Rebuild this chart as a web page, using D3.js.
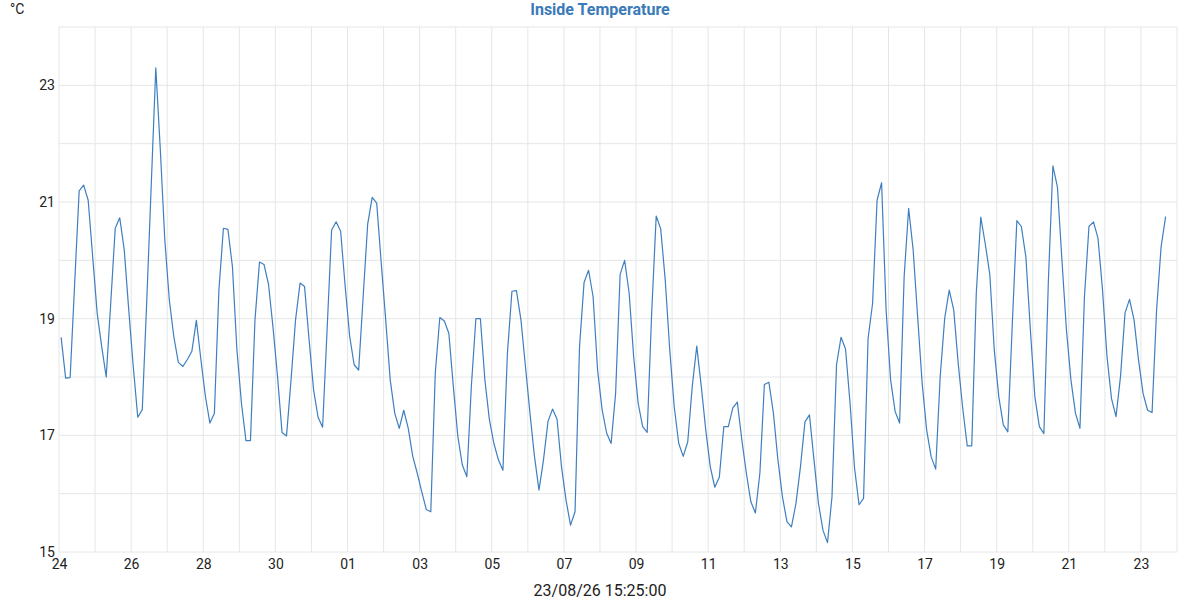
<!DOCTYPE html>
<html>
<head>
<meta charset="utf-8">
<script src="https://cdn.jsdelivr.net/npm/d3@7"></script>
<style>
  body { margin: 0; background: #fff; }
  svg text { font-family: Roboto, "Noto Sans", sans-serif; }
</style>
</head>
<body>
<div class="chart"></div>
<script>
// Data: inside temperature (°C), one reading every 3 hours from 24 Jul 01:25
const firstReading = new Date(2026, 6, 24, 1, 25);
const stepHours = 3;
const temps = [
  18.68, 17.98, 17.99, 19.6, 21.19, 21.29, 21.03, 20.06, 19.09, 18.52,
  18.0, 19.26, 20.55, 20.73, 20.18, 19.15, 18.18, 17.31, 17.44, 19.31,
  21.31, 23.30, 21.9, 20.35, 19.32, 18.69, 18.25, 18.18, 18.3, 18.44,
  18.97, 18.3, 17.67, 17.21, 17.38, 19.49, 20.55, 20.53, 19.89, 18.46,
  17.55, 16.91, 16.91, 18.98, 19.97, 19.93, 19.59, 18.85, 18.01, 17.05,
  16.99, 17.95, 18.98, 19.61, 19.55, 18.64, 17.78, 17.31, 17.14, 18.81,
  20.52, 20.66, 20.50, 19.56, 18.70, 18.21, 18.12, 19.38, 20.62, 21.08,
  20.98, 19.96, 18.98, 17.95, 17.38, 17.12, 17.43, 17.12, 16.64, 16.35,
  16.03, 15.73, 15.69, 18.07, 19.02, 18.96, 18.75, 17.84, 16.98, 16.49,
  16.29, 17.84, 19.0, 19.0, 17.95, 17.27, 16.86, 16.58, 16.40, 18.41,
  19.47, 19.48, 18.98, 18.18, 17.38, 16.64, 16.06, 16.58, 17.24, 17.45,
  17.28, 16.46, 15.89, 15.46, 15.69, 18.53, 19.62, 19.83, 19.38, 18.12,
  17.44, 17.04, 16.86, 17.72, 19.76, 20.0, 19.44, 18.35, 17.55, 17.15,
  17.05, 19.10, 20.76, 20.54, 19.67, 18.47, 17.49, 16.86, 16.64, 16.89,
  17.84, 18.53, 17.84, 17.09, 16.46, 16.11, 16.28, 17.15, 17.15, 17.47,
  17.57, 16.92, 16.35, 15.86, 15.67, 16.35, 17.87, 17.91, 17.38, 16.58,
  15.95, 15.52, 15.43, 15.83, 16.46, 17.23, 17.35, 16.58, 15.83, 15.37,
  15.16, 15.95, 18.21, 18.68, 18.48, 17.55, 16.44, 15.81, 15.92, 18.66,
  19.26, 21.03, 21.33, 19.15, 17.95, 17.41, 17.21, 19.72, 20.89, 20.18,
  19.03, 17.89, 17.09, 16.63, 16.42, 18.01, 19.01, 19.49, 19.15, 18.23,
  17.46, 16.82, 16.82, 19.43, 20.74, 20.28, 19.76, 18.46, 17.66, 17.18,
  17.06, 18.92, 20.68, 20.58, 20.06, 18.81, 17.66, 17.15, 17.03, 19.66,
  21.62, 21.26, 20.01, 18.81, 17.95, 17.38, 17.12, 19.38, 20.58, 20.66,
  20.38, 19.5, 18.35, 17.63, 17.32, 18.01, 19.1, 19.33, 18.98, 18.29,
  17.72, 17.43, 17.39, 19.15, 20.23, 20.75
];
const xStart = new Date(2026, 6, 24);
const xEnd = new Date(2026, 7, 24);
const yTicks = [15, 17, 19, 21, 23];
const title = "Inside Temperature";
const unit = "°C";
const stamp = "23/08/26 15:25:00";

const W = 1200, H = 600;
const margin = { top: 27, right: 23, bottom: 48, left: 59 };

const data = temps.map((t, i) => ({
  date: d3.timeHour.offset(firstReading, i * stepHours),
  value: t
}));

const x = d3.scaleTime().domain([xStart, xEnd]).range([margin.left, W - margin.right]);
const y = d3.scaleLinear().domain([15, 24]).range([H - margin.bottom, margin.top]);

const svg = d3.select(".chart").append("svg")
    .attr("width", W)
    .attr("height", H);

// grid
svg.append("g")
    .selectAll("line")
    .data(d3.range(15, 25))
    .enter().append("line")
    .attr("x1", margin.left).attr("x2", W - margin.right)
    .attr("y1", d => y(d)).attr("y2", d => y(d))
    .attr("stroke", "#e6e6e6")
    .attr("stroke-width", 1);

svg.append("g")
    .selectAll("line")
    .data(d3.timeDay.range(xStart, d3.timeDay.offset(xEnd, 1)))
    .enter().append("line")
    .attr("x1", d => x(d)).attr("x2", d => x(d))
    .attr("y1", margin.top).attr("y2", H - margin.bottom)
    .attr("stroke", "#e6e6e6")
    .attr("stroke-width", 1);

// axes
const xAxis = d3.axisBottom(x)
    .tickValues(d3.timeDay.range(xStart, xEnd, 2))
    .tickFormat(d3.timeFormat("%d"))
    .tickSize(0)
    .tickPadding(7);

const yAxis = d3.axisLeft(y)
    .tickValues(yTicks)
    .tickFormat(d3.format("d"))
    .tickSize(0)
    .tickPadding(4);

const gx = svg.append("g")
    .attr("transform", "translate(0," + (H - margin.bottom) + ")")
    .call(xAxis);
const gy = svg.append("g")
    .attr("transform", "translate(" + margin.left + ",0)")
    .call(yAxis);

[gx, gy].forEach(g => {
  g.select(".domain").remove();
  g.selectAll("text")
    .attr("fill", "#222")
    .style("font-size", "14px");
});

// line
const line = d3.line()
    .x(d => x(d.date))
    .y(d => y(d.value));

svg.append("path")
    .datum(data)
    .attr("fill", "none")
    .attr("stroke", "#3f7fbf")
    .attr("stroke-width", 1.2)
    .attr("stroke-linejoin", "round")
    .attr("d", line);

// labels
svg.append("text")
    .attr("x", W / 2)
    .attr("y", 15)
    .attr("text-anchor", "middle")
    .attr("fill", "#3a7ab8")
    .style("font-size", "16px")
    .style("font-weight", "bold")
    .text(title);

svg.append("text")
    .attr("x", 10)
    .attr("y", 14)
    .attr("fill", "#222")
    .style("font-size", "14px")
    .text(unit);

svg.append("text")
    .attr("x", W / 2)
    .attr("y", 596)
    .attr("text-anchor", "middle")
    .attr("fill", "#222")
    .style("font-size", "16px")
    .text(stamp);
</script>
</body>
</html>
